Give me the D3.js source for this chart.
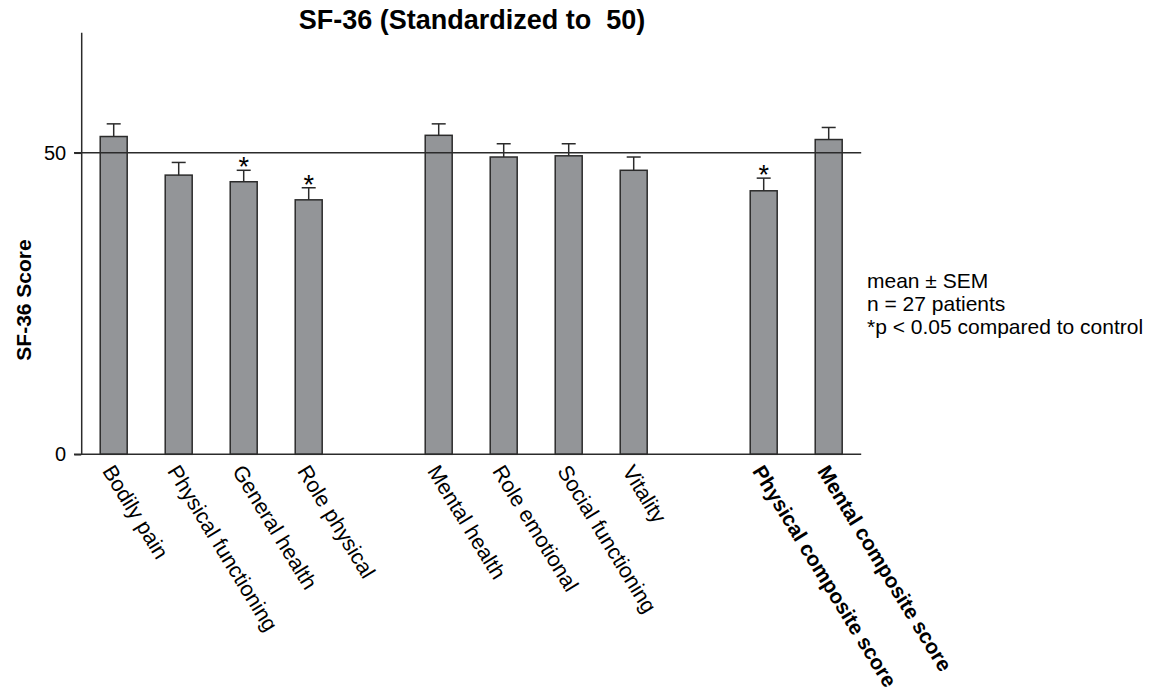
<!DOCTYPE html>
<html>
<head>
<meta charset="utf-8">
<script src="https://cdn.jsdelivr.net/npm/d3@7"></script>
<style>
  html, body { margin: 0; padding: 0; background: #fff; }
  svg { display: block; font-family: "Liberation Sans", Arial, Helvetica, sans-serif; }
  text { white-space: pre; }
</style>
</head>
<body>
<svg id="chart" width="1154" height="696"></svg>
<script>
// SF-36 subscale and composite scores (norm-based, population mean = 50)
const categories = [
  "Bodily pain", "Physical functioning", "General health", "Role physical",
  "Mental health", "Role emotional", "Social functioning", "Vitality",
  "Physical composite score", "Mental composite score"
];
// group index: physical subscales, mental subscales, composite scores
const groups = [0, 0, 0, 0, 1, 1, 1, 1, 2, 2];
const means = [52.7, 46.3, 45.2, 42.2, 52.9, 49.3, 49.5, 47.1, 43.7, 52.2];
const sems  = [2.1, 2.1, 1.9, 2.0, 1.9, 2.2, 2.0, 2.2, 2.1, 2.0];
const significant = [false, false, true, true, false, false, false, false, true, false];
const yTicks = [0, 50];
const referenceValue = 50;
const yMax = 70;
const titleText = "SF-36 (Standardized to  50)";
const yLabelText = "SF-36 Score";
const notes = ["mean \u00b1 SEM", "n = 27 patients", "*p < 0.05 compared to control"];

const svg = d3.select("#chart");
const ink = "#2b2b2b";
const barFill = "#939598";

// Slot list: one empty slot between groups
const slots = [];
categories.forEach((c, i) => {
  if (i > 0 && groups[i] !== groups[i - 1]) slots.push("gap-" + groups[i]);
  slots.push(c);
});

const x = d3.scaleBand()
  .domain(slots)
  .range([81.2, 861.2])
  .paddingInner(0.585)
  .paddingOuter(0.2925);

const y = d3.scaleLinear().domain([0, yMax]).range([454.3, 32.2]);

const data = categories.map((c, i) => ({
  name: c, mean: means[i], sem: sems[i], sig: significant[i], composite: groups[i] === 2
}));

// Title
svg.append("text")
  .attr("x", 472).attr("y", 29)
  .attr("text-anchor", "middle")
  .attr("font-size", 27).attr("font-weight", "bold").attr("fill", "#000")
  .text(titleText);

// Y-axis title
svg.append("text")
  .attr("transform", "translate(31,300) rotate(-90)")
  .attr("text-anchor", "middle")
  .attr("font-size", 21).attr("font-weight", "bold").attr("fill", "#000")
  .text(yLabelText);

// Bars
svg.append("g").selectAll("rect")
  .data(data).join("rect")
  .attr("x", d => x(d.name))
  .attr("y", d => y(d.mean))
  .attr("width", x.bandwidth())
  .attr("height", d => y(0) - y(d.mean))
  .attr("fill", barFill)
  .attr("stroke", ink).attr("stroke-width", 1.5);

// Error bars (upper SEM)
const err = svg.append("g").attr("stroke", ink).attr("stroke-width", 1.5);
err.selectAll("line.v").data(data).join("line").attr("class", "v")
  .attr("x1", d => x(d.name) + x.bandwidth() / 2)
  .attr("x2", d => x(d.name) + x.bandwidth() / 2)
  .attr("y1", d => y(d.mean))
  .attr("y2", d => y(d.mean + d.sem));
err.selectAll("line.cap").data(data).join("line").attr("class", "cap")
  .attr("x1", d => x(d.name) + x.bandwidth() / 2 - 7)
  .attr("x2", d => x(d.name) + x.bandwidth() / 2 + 7)
  .attr("y1", d => y(d.mean + d.sem))
  .attr("y2", d => y(d.mean + d.sem));

// Significance stars
svg.append("g").selectAll("text")
  .data(data.filter(d => d.sig)).join("text")
  .attr("x", d => x(d.name) + x.bandwidth() / 2)
  .attr("y", d => y(d.mean + d.sem) + 6)
  .attr("text-anchor", "middle")
  .attr("font-size", 27).attr("fill", "#000")
  .text("*");

// Reference line at the normative mean
svg.append("line")
  .attr("x1", 74).attr("x2", x.range()[1])
  .attr("y1", y(referenceValue)).attr("y2", y(referenceValue))
  .attr("stroke", ink).attr("stroke-width", 1.5);

// Y axis
const yAxis = svg.append("g")
  .attr("transform", "translate(81.2,0)")
  .call(d3.axisLeft(y).tickValues(yTicks).tickSize(7).tickPadding(8).tickSizeOuter(0));
yAxis.select(".domain").attr("stroke", ink).attr("stroke-width", 1.5);
yAxis.selectAll(".tick line").attr("stroke", ink).attr("stroke-width", 1.5);
yAxis.selectAll(".tick text")
  .attr("font-size", 20).attr("fill", "#000")
  .attr("font-family", "Liberation Sans, Arial, sans-serif");

// X baseline
svg.append("line")
  .attr("x1", 74).attr("x2", x.range()[1])
  .attr("y1", y(0)).attr("y2", y(0))
  .attr("stroke", ink).attr("stroke-width", 1.5);

// Rotated category labels
svg.append("g").selectAll("text")
  .data(data).join("text")
  .attr("transform", d => `translate(${x(d.name) + x.bandwidth() / 2 - 12},471) rotate(58.5)`)
  .attr("font-size", d => d.composite ? 20.8 : 21.5)
  .attr("font-weight", d => d.composite ? "bold" : "normal")
  .attr("fill", "#000")
  .text(d => d.name);

// Notes
svg.append("g").selectAll("text")
  .data(notes).join("text")
  .attr("x", 867)
  .attr("y", (d, i) => 288 + i * 23)
  .attr("font-size", 21).attr("fill", "#000")
  .text(d => d);
</script>
</body>
</html>
